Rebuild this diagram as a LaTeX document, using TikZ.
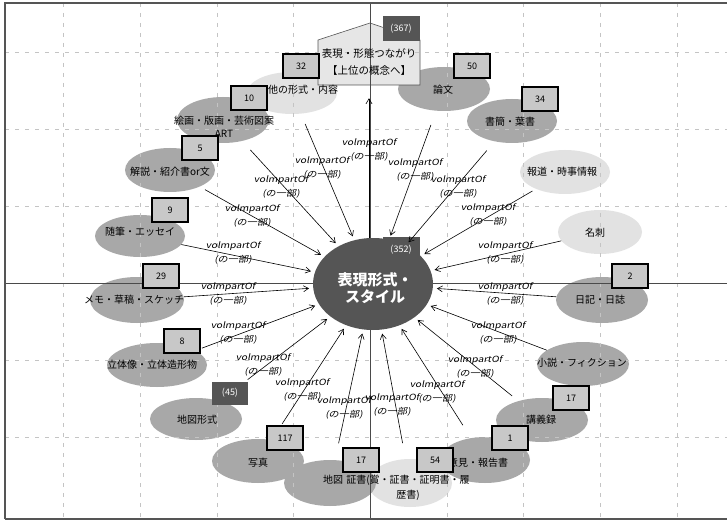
\documentclass[tikz,border=0pt]{standalone}
\usepackage{fontspec}
\setmainfont{Noto Sans CJK JP}
\newfontfamily\lblfont[FakeSlant=0.2,FakeStretch=1.2]{Noto Sans CJK JP}
\usetikzlibrary{shapes.geometric,arrows.meta}
\definecolor{ellg}{HTML}{A8A8A8}
\definecolor{fadeg}{HTML}{E2E2E2}
\definecolor{darkg}{HTML}{555555}
\definecolor{boxg}{HTML}{C8C8C8}
\definecolor{gridg}{HTML}{C4C4C4}
\definecolor{houseg}{HTML}{E6E6E6}
\definecolor{axisc}{HTML}{4A4A4A}
\begin{document}
\begin{tikzpicture}[x=1pt,y=-1pt,
  ell/.style={ellipse, fill=ellg, draw=none, inner sep=0pt},
  fell/.style={ell, fill=fadeg},
  txt/.style={font=\fontsize{10}{13}\selectfont, align=center, inner sep=0pt},
  cnt/.style={draw=black, line width=1.1pt, fill=boxg, minimum width=36pt, minimum height=24pt, inner sep=0pt, font=\fontsize{9}{10}\selectfont},
  dcnt/.style={fill=darkg, minimum width=37pt, minimum height=25pt, inner sep=0pt, text=white, font=\fontsize{9}{10}\selectfont},
  lbl/.style={font=\lblfont\fontsize{8.5}{13.5}\selectfont, align=center, inner sep=0pt},
  arr/.style={draw=black, line width=0.6pt, -{Straight Barb[length=5pt,width=6pt]}, shorten >=4pt},
  gridl/.style={draw=gridg, dash pattern=on 4pt off 6pt, line width=0.5pt}]
\useasboundingbox (0,0) rectangle (727,521);
\fill[white] (0,0) rectangle (727,521);

% ellipses (faded first)
\node[fell, minimum width=90pt, minimum height=42pt] (N1) at (292,93) {};
\node[fell, minimum width=84pt, minimum height=48pt] (N10) at (410,483) {};
\node[fell, minimum width=84pt, minimum height=44pt] (N15) at (600,232) {};
\node[fell, minimum width=90pt, minimum height=44pt] (N16) at (565,172) {};
\node[ell, minimum width=92pt, minimum height=46pt] (N2) at (223,120) {};
\node[ell, minimum width=90pt, minimum height=44pt] (N3) at (170,170) {};
\node[ell, minimum width=90pt, minimum height=42pt] (N4) at (140,236) {};
\node[ell, minimum width=94pt, minimum height=46pt] (N5) at (137,300) {};
\node[ell, minimum width=100pt, minimum height=44pt] (N6) at (157,365) {};
\node[ell, minimum width=92pt, minimum height=42pt] (N7) at (196,419) {};
\node[ell, minimum width=92pt, minimum height=44pt] (N8) at (258,461) {};
\node[ell, minimum width=92pt, minimum height=46pt] (N9) at (330,483) {};
\node[ell, minimum width=90pt, minimum height=46pt] (N11) at (485,460) {};
\node[ell, minimum width=92pt, minimum height=44pt] (N12) at (542,420) {};
\node[ell, minimum width=92pt, minimum height=44pt] (N13) at (583,364) {};
\node[ell, minimum width=92pt, minimum height=46pt] (N14) at (602,300) {};
\node[ell, minimum width=90pt, minimum height=44pt] (N17) at (512,121) {};
\node[ell, minimum width=92pt, minimum height=44pt] (N18) at (444,89) {};

% house shape
\draw[draw=darkg, line width=0.6pt, fill=houseg] (318,40) -- (370,23) -- (420,40) -- (420,85) -- (318,85) -- cycle;

% grid
\foreach \gx in {63,140,217,293,447,523,600,677} \draw[gridl] (\gx,3) -- (\gx,519);
\foreach \gy in {52,129,206,360,437} \draw[gridl] (5,\gy) -- (727,\gy);
% axes and frame
\draw[axisc, line width=0.8pt] (370,3) -- (370,519);
\draw[axisc, line width=0.8pt] (5,283) -- (727,283);
\draw[darkg, line width=1.6pt] (5,519) -- (5,3) -- (727,3);
\draw[darkg, line width=1.4pt] (5,519) -- (727,519);

% center
\node[ellipse, fill=darkg, inner sep=0pt, minimum width=120pt, minimum height=92pt] (C) at (373,284) {};
\node[dcnt, minimum height=26pt] (BC) at (401,250) {(352)};

% house text node
\node[txt, font=\fontsize{10.5}{17}\selectfont, minimum width=102pt, minimum height=45pt] (H) at (369,62.5) {表現・形態つながり\\【上位の概念へ】};

% edges
\draw[arr, shorten >=13pt] (H.south |- C.north) -- (H.south);
\draw[arr, shorten <=11pt] (N1) -- (C);
\draw[arr, shorten <=12pt] (N2) -- (C);
\draw[arr, shorten <=6pt] (N3) -- (C);
\draw[arr] (N4) -- (C);
\draw[arr] (N5) -- (C);
\draw[arr, shorten <=7pt] (N6) -- (C);
\draw[arr, shorten <=35pt] (N7) -- (C);
\draw[arr, shorten <=19pt] (N8) -- (C);
\draw[arr, shorten <=17pt] (N9) -- (C);
\draw[arr, shorten <=16pt] (N10) -- (C);
\draw[arr, shorten <=15pt] (N11) -- (C);
\draw[arr, shorten <=8pt] (N12) -- (C);
\draw[arr] (N13) -- (C);
\draw[arr] (N14) -- (C);
\draw[arr] (N15) -- (C);
\draw[arr, shorten <=4pt] (N16) -- (C);
\draw[arr, shorten <=12pt] (N17) -- (C);
\draw[arr, shorten <=15pt] (N18) -- (C);

% center text on top
\node[font=\bfseries\fontsize{15}{17}\selectfont, text=white, align=center, inner sep=0pt] (Ct) at (375,288) {表現形式・\\スタイル};

% edge labels
\node[lbl] (L0) at (369,150) {volmpartOf\\(の一部)};
\node[lbl] (L1) at (322,168) {volmpartOf\\(の一部)};
\node[lbl] (L2) at (281,187) {volmpartOf\\(の一部)};
\node[lbl] (L3) at (252,216) {volmpartOf\\(の一部)};
\node[lbl] (L4) at (233,253) {volmpartOf\\(の一部)};
\node[lbl] (L5) at (228,294) {volmpartOf\\(の一部)};
\node[lbl] (L6) at (238,333) {volmpartOf\\(の一部)};
\node[lbl] (L7) at (263,365) {volmpartOf\\(の一部)};
\node[lbl] (L8) at (302,390) {volmpartOf\\(の一部)};
\node[lbl] (L9) at (344,408) {volmpartOf\\(の一部)};
\node[lbl] (L10) at (392,405) {volmpartOf\\(の一部)};
\node[lbl] (L11) at (437,392) {volmpartOf\\(の一部)};
\node[lbl] (L12) at (475,367) {volmpartOf\\(の一部)};
\node[lbl] (L13) at (498,333) {volmpartOf\\(の一部)};
\node[lbl] (L14) at (505,294) {volmpartOf\\(の一部)};
\node[lbl] (L15) at (505,253) {volmpartOf\\(の一部)};
\node[lbl] (L16) at (488,215) {volmpartOf\\(の一部)};
\node[lbl] (L17) at (458,187) {volmpartOf\\(の一部)};
\node[lbl] (L18) at (415,170) {volmpartOf\\(の一部)};

% node texts
\node[txt] (N1t) at (293,90) {その他の形式・内容};
\node[txt] (N2t) at (224,126.5) {絵画・版画・芸術図案\\ART};
\node[txt] (N3t) at (170,172) {解説・紹介書or文};
\node[txt] (N4t) at (140,232) {随筆・エッセイ};
\node[txt] (N5t) at (134,300) {メモ・草稿・スケッチ};
\node[txt] (N6t) at (152,365) {立体像・立体造形物};
\node[txt] (N7t) at (197,420) {地図形式};
\node[txt] (N8t) at (258,463) {写真};
\node[txt] (N9t) at (333,480) {地図};
\node[txt, font=\fontsize{10}{15}\selectfont] (N10t) at (408,487.5) {証書(賞・証書・証明書・履\\歴書)};
\node[txt] (N11t) at (478,463) {意見・報告書};
\node[txt] (N12t) at (541,420) {講義録};
\node[txt] (N13t) at (582,363) {小説・フィクション};
\node[txt] (N14t) at (600,300) {日記・日誌};
\node[txt] (N15t) at (595,233) {名刺};
\node[txt] (N16t) at (562,172) {報道・時事情報};
\node[txt] (N17t) at (510,122) {書簡・葉書};
\node[txt] (N18t) at (443,90) {論文};

% count boxes
\node[cnt] (B1) at (301,66) {32};
\node[cnt] (B2) at (249,98) {10};
\node[cnt] (B3) at (200,148) {5};
\node[cnt] (B4) at (170,210) {9};
\node[cnt] (B5) at (161,276) {29};
\node[cnt] (B6) at (182,341) {8};
\node[dcnt, minimum width=36pt, minimum height=23pt] (B7) at (230,393) {(45)};
\node[cnt] (B8) at (285,438) {117};
\node[cnt] (B9) at (361,460) {17};
\node[cnt] (B10) at (435,460) {54};
\node[cnt] (B11) at (510,438) {1};
\node[cnt] (B12) at (571,398) {17};
\node[cnt] (B14) at (630,276) {2};
\node[cnt] (B17) at (540,99) {34};
\node[cnt] (B18) at (472,66) {50};
\node[dcnt] (B0) at (401,29) {(367)};
\end{tikzpicture}
\end{document}
